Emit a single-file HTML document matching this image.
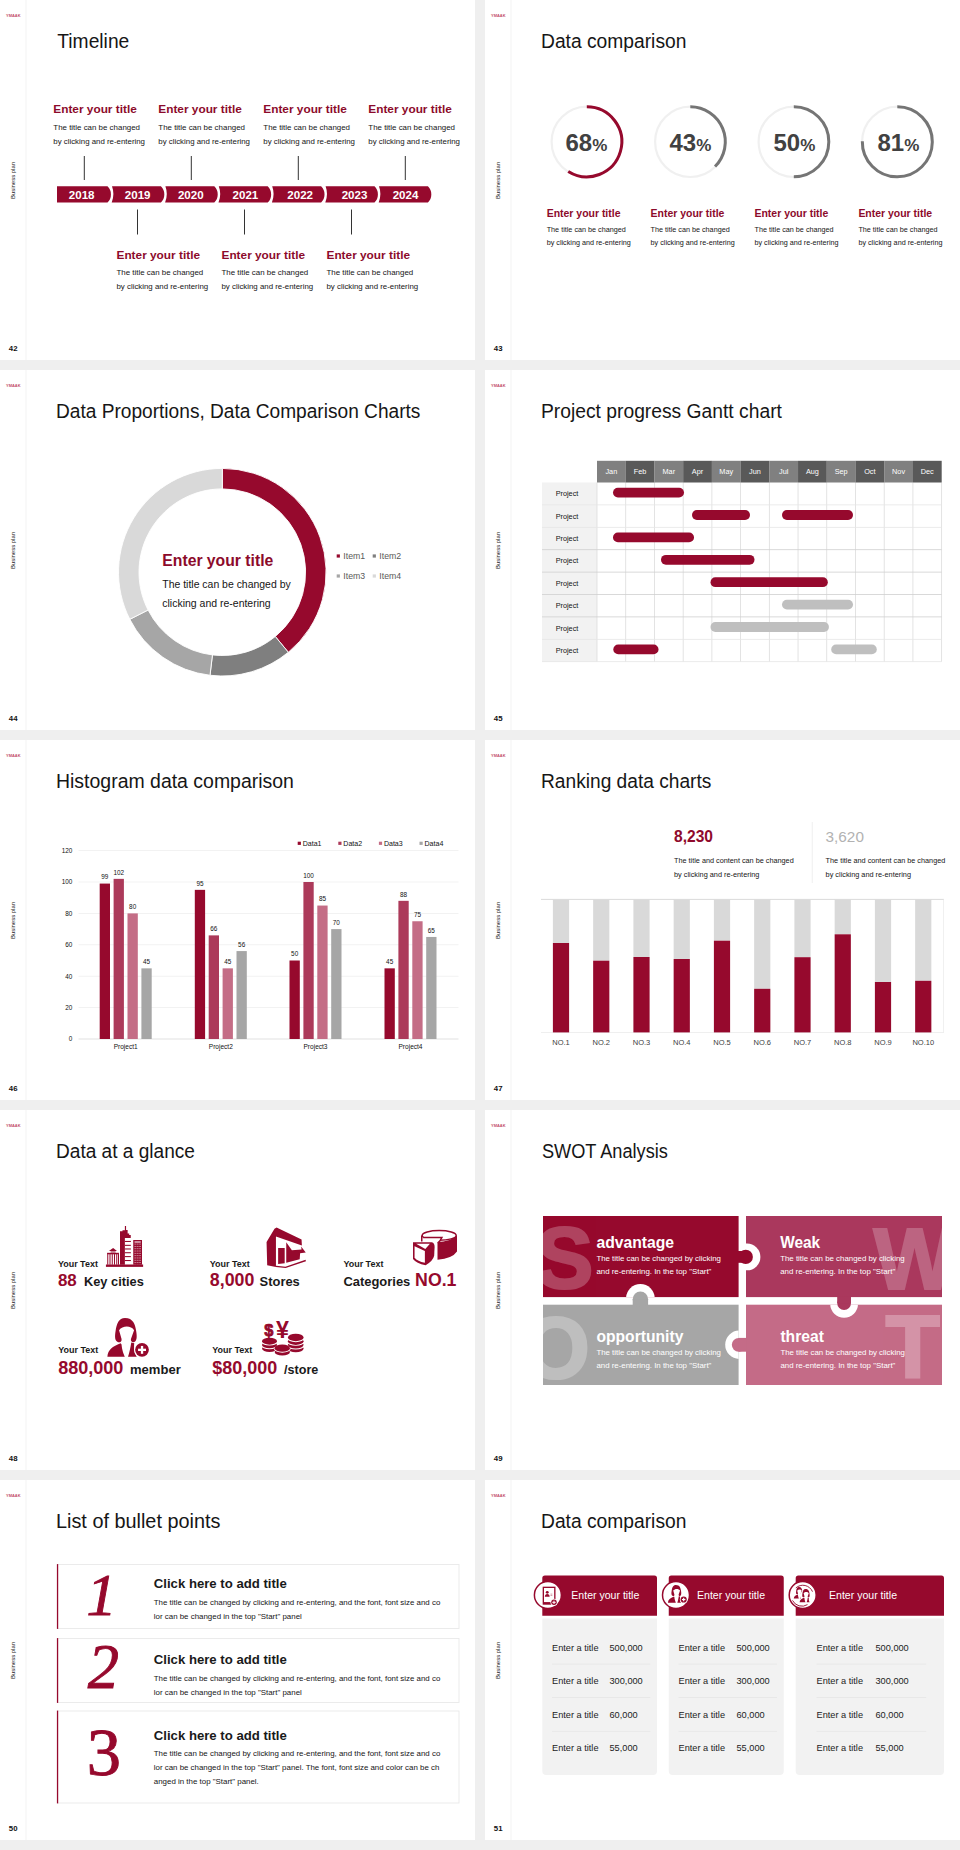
<!DOCTYPE html>
<html lang="en"><head><meta charset="utf-8"><title>Business plan slides</title>
<style>
html,body{margin:0;padding:0}
body{width:960px;height:1850px;background:#efefef;position:relative;overflow:hidden;font-family:"Liberation Sans",sans-serif}
svg.s{position:absolute;background:#fff;display:block;font-family:"Liberation Sans",sans-serif}
</style></head><body>
<svg class="s" style="left:0px;top:0px" width="475" height="360" viewBox="0 0 475 360">
<rect x="25.5" y="0" width="1" height="360" fill="#f4f4f4"/>
<text x="6" y="16.8" font-size="3.6" fill="#c4506c" font-weight="bold" textLength="14.5" lengthAdjust="spacingAndGlyphs">YMAAK</text>
<text transform="translate(15.1,199) rotate(-90)" font-size="5.5" fill="#222" textLength="37" lengthAdjust="spacingAndGlyphs">Business plan</text>
<text x="8.8" y="351.4" font-size="7.8" fill="#111" font-weight="bold">42</text>
<text x="57.3" y="47.7" font-size="19.5" fill="#161616" textLength="72" lengthAdjust="spacingAndGlyphs">Timeline</text>
<text x="53.3" y="113.3" font-size="11.8" fill="#8c0a2b" font-weight="bold" textLength="83.5" lengthAdjust="spacingAndGlyphs">Enter your title</text>
<text x="53.3" y="130" font-size="7.9" fill="#151515" textLength="86.7" lengthAdjust="spacingAndGlyphs">The title can be changed</text>
<text x="53.3" y="144.3" font-size="7.9" fill="#151515" textLength="91.7" lengthAdjust="spacingAndGlyphs">by clicking and re-entering</text>
<rect x="83.8" y="156" width="1" height="24" fill="#333"/>
<text x="158.3" y="113.3" font-size="11.8" fill="#8c0a2b" font-weight="bold" textLength="83.5" lengthAdjust="spacingAndGlyphs">Enter your title</text>
<text x="158.3" y="130" font-size="7.9" fill="#151515" textLength="86.7" lengthAdjust="spacingAndGlyphs">The title can be changed</text>
<text x="158.3" y="144.3" font-size="7.9" fill="#151515" textLength="91.7" lengthAdjust="spacingAndGlyphs">by clicking and re-entering</text>
<rect x="190.8" y="156" width="1" height="24" fill="#333"/>
<text x="263.3" y="113.3" font-size="11.8" fill="#8c0a2b" font-weight="bold" textLength="83.5" lengthAdjust="spacingAndGlyphs">Enter your title</text>
<text x="263.3" y="130" font-size="7.9" fill="#151515" textLength="86.7" lengthAdjust="spacingAndGlyphs">The title can be changed</text>
<text x="263.3" y="144.3" font-size="7.9" fill="#151515" textLength="91.7" lengthAdjust="spacingAndGlyphs">by clicking and re-entering</text>
<rect x="297.8" y="156" width="1" height="24" fill="#333"/>
<text x="368.3" y="113.3" font-size="11.8" fill="#8c0a2b" font-weight="bold" textLength="83.5" lengthAdjust="spacingAndGlyphs">Enter your title</text>
<text x="368.3" y="130" font-size="7.9" fill="#151515" textLength="86.7" lengthAdjust="spacingAndGlyphs">The title can be changed</text>
<text x="368.3" y="144.3" font-size="7.9" fill="#151515" textLength="91.7" lengthAdjust="spacingAndGlyphs">by clicking and re-entering</text>
<rect x="404.8" y="156" width="1" height="24" fill="#333"/>
<text x="116.5" y="259.3" font-size="11.8" fill="#8c0a2b" font-weight="bold" textLength="83.5" lengthAdjust="spacingAndGlyphs">Enter your title</text>
<text x="116.5" y="275" font-size="7.9" fill="#151515" textLength="86.7" lengthAdjust="spacingAndGlyphs">The title can be changed</text>
<text x="116.5" y="289.3" font-size="7.9" fill="#151515" textLength="91.7" lengthAdjust="spacingAndGlyphs">by clicking and re-entering</text>
<rect x="137.0" y="209.5" width="1" height="25" fill="#333"/>
<text x="221.5" y="259.3" font-size="11.8" fill="#8c0a2b" font-weight="bold" textLength="83.5" lengthAdjust="spacingAndGlyphs">Enter your title</text>
<text x="221.5" y="275" font-size="7.9" fill="#151515" textLength="86.7" lengthAdjust="spacingAndGlyphs">The title can be changed</text>
<text x="221.5" y="289.3" font-size="7.9" fill="#151515" textLength="91.7" lengthAdjust="spacingAndGlyphs">by clicking and re-entering</text>
<rect x="244.0" y="209.5" width="1" height="25" fill="#333"/>
<text x="326.5" y="259.3" font-size="11.8" fill="#8c0a2b" font-weight="bold" textLength="83.5" lengthAdjust="spacingAndGlyphs">Enter your title</text>
<text x="326.5" y="275" font-size="7.9" fill="#151515" textLength="86.7" lengthAdjust="spacingAndGlyphs">The title can be changed</text>
<text x="326.5" y="289.3" font-size="7.9" fill="#151515" textLength="91.7" lengthAdjust="spacingAndGlyphs">by clicking and re-entering</text>
<rect x="351.0" y="209.5" width="1" height="25" fill="#333"/>
<path d="M57,186.3 L107.50,186.3 C112.10,190.3 112.10,198.6 107.50,202.6 L57,202.6 Z" fill="#96092d"/>
<text x="81.7" y="199.4" font-size="11.8" fill="#fff" font-weight="bold" text-anchor="middle" textLength="25.7" lengthAdjust="spacingAndGlyphs">2018</text>
<path d="M112.00,186.3 L160.90,186.3 C165.50,190.3 165.50,198.6 160.90,202.6 L111.70,202.6 Q115.00,194.45 112.00,186.3 Z" fill="#96092d"/>
<text x="137.7" y="199.4" font-size="11.8" fill="#fff" font-weight="bold" text-anchor="middle" textLength="25.7" lengthAdjust="spacingAndGlyphs">2019</text>
<path d="M165.40,186.3 L214.30,186.3 C218.90,190.3 218.90,198.6 214.30,202.6 L165.10,202.6 Q168.40,194.45 165.40,186.3 Z" fill="#96092d"/>
<text x="190.8" y="199.4" font-size="11.8" fill="#fff" font-weight="bold" text-anchor="middle" textLength="25.7" lengthAdjust="spacingAndGlyphs">2020</text>
<path d="M218.80,186.3 L267.70,186.3 C272.30,190.3 272.30,198.6 267.70,202.6 L218.50,202.6 Q221.80,194.45 218.80,186.3 Z" fill="#96092d"/>
<text x="245.4" y="199.4" font-size="11.8" fill="#fff" font-weight="bold" text-anchor="middle" textLength="25.7" lengthAdjust="spacingAndGlyphs">2021</text>
<path d="M272.20,186.3 L321.10,186.3 C325.70,190.3 325.70,198.6 321.10,202.6 L271.90,202.6 Q275.20,194.45 272.20,186.3 Z" fill="#96092d"/>
<text x="300.2" y="199.4" font-size="11.8" fill="#fff" font-weight="bold" text-anchor="middle" textLength="25.7" lengthAdjust="spacingAndGlyphs">2022</text>
<path d="M325.60,186.3 L374.50,186.3 C379.10,190.3 379.10,198.6 374.50,202.6 L325.30,202.6 Q328.60,194.45 325.60,186.3 Z" fill="#96092d"/>
<text x="354.5" y="199.4" font-size="11.8" fill="#fff" font-weight="bold" text-anchor="middle" textLength="25.7" lengthAdjust="spacingAndGlyphs">2023</text>
<path d="M379.00,186.3 L427.90,186.3 C432.50,190.3 432.50,198.6 427.90,202.6 L378.70,202.6 Q382.00,194.45 379.00,186.3 Z" fill="#96092d"/>
<text x="405.5" y="199.4" font-size="11.8" fill="#fff" font-weight="bold" text-anchor="middle" textLength="25.7" lengthAdjust="spacingAndGlyphs">2024</text>
</svg>
<svg class="s" style="left:485px;top:0px" width="475" height="360" viewBox="0 0 475 360">
<rect x="25.5" y="0" width="1" height="360" fill="#f4f4f4"/>
<text x="6" y="16.8" font-size="3.6" fill="#c4506c" font-weight="bold" textLength="14.5" lengthAdjust="spacingAndGlyphs">YMAAK</text>
<text transform="translate(15.1,199) rotate(-90)" font-size="5.5" fill="#222" textLength="37" lengthAdjust="spacingAndGlyphs">Business plan</text>
<text x="8.8" y="351.4" font-size="7.8" fill="#111" font-weight="bold">43</text>
<text x="56.0" y="47.7" font-size="19.5" fill="#161616" textLength="145.4" lengthAdjust="spacingAndGlyphs">Data comparison</text>
<circle cx="101.8" cy="141.8" r="35.2" fill="none" stroke="#f0f0f0" stroke-width="2.2"/>
<path d="M101.80,106.80 A35.0,35.0 0 1 1 83.25,171.48" fill="none" stroke="#96092d" stroke-width="3.0"/>
<text x="80.5" y="150.7" font-weight="bold" fill="#414141"><tspan font-size="24">68</tspan><tspan font-size="17">%</tspan></text>
<text x="61.7" y="216.7" font-size="10.5" fill="#8c0a2b" font-weight="bold" textLength="73.8" lengthAdjust="spacingAndGlyphs">Enter your title</text>
<text x="61.7" y="231.6" font-size="7.2" fill="#151515" textLength="79.1" lengthAdjust="spacingAndGlyphs">The title can be changed</text>
<text x="61.7" y="244.7" font-size="7.2" fill="#151515" textLength="84.1" lengthAdjust="spacingAndGlyphs">by clicking and re-entering</text>
<circle cx="205.3" cy="141.8" r="35.2" fill="none" stroke="#f0f0f0" stroke-width="2.2"/>
<path d="M205.30,106.80 A35.0,35.0 0 0 1 230.05,166.55" fill="none" stroke="#757575" stroke-width="3.0"/>
<text x="184.5" y="150.7" font-weight="bold" fill="#414141"><tspan font-size="24">43</tspan><tspan font-size="17">%</tspan></text>
<text x="165.6" y="216.7" font-size="10.5" fill="#8c0a2b" font-weight="bold" textLength="73.8" lengthAdjust="spacingAndGlyphs">Enter your title</text>
<text x="165.6" y="231.6" font-size="7.2" fill="#151515" textLength="79.1" lengthAdjust="spacingAndGlyphs">The title can be changed</text>
<text x="165.6" y="244.7" font-size="7.2" fill="#151515" textLength="84.1" lengthAdjust="spacingAndGlyphs">by clicking and re-entering</text>
<circle cx="308.8" cy="141.8" r="35.2" fill="none" stroke="#f0f0f0" stroke-width="2.2"/>
<path d="M308.80,106.80 A35.0,35.0 0 0 1 308.80,176.80" fill="none" stroke="#757575" stroke-width="3.0"/>
<text x="288.5" y="150.7" font-weight="bold" fill="#414141"><tspan font-size="24">50</tspan><tspan font-size="17">%</tspan></text>
<text x="269.5" y="216.7" font-size="10.5" fill="#8c0a2b" font-weight="bold" textLength="73.8" lengthAdjust="spacingAndGlyphs">Enter your title</text>
<text x="269.5" y="231.6" font-size="7.2" fill="#151515" textLength="79.1" lengthAdjust="spacingAndGlyphs">The title can be changed</text>
<text x="269.5" y="244.7" font-size="7.2" fill="#151515" textLength="84.1" lengthAdjust="spacingAndGlyphs">by clicking and re-entering</text>
<circle cx="412.3" cy="141.8" r="35.2" fill="none" stroke="#f0f0f0" stroke-width="2.2"/>
<path d="M412.30,106.80 A35.0,35.0 0 1 1 377.31,141.19" fill="none" stroke="#757575" stroke-width="3.0"/>
<text x="392.5" y="150.7" font-weight="bold" fill="#414141"><tspan font-size="24">81</tspan><tspan font-size="17">%</tspan></text>
<text x="373.4" y="216.7" font-size="10.5" fill="#8c0a2b" font-weight="bold" textLength="73.8" lengthAdjust="spacingAndGlyphs">Enter your title</text>
<text x="373.4" y="231.6" font-size="7.2" fill="#151515" textLength="79.1" lengthAdjust="spacingAndGlyphs">The title can be changed</text>
<text x="373.4" y="244.7" font-size="7.2" fill="#151515" textLength="84.1" lengthAdjust="spacingAndGlyphs">by clicking and re-entering</text>
</svg>
<svg class="s" style="left:0px;top:370px" width="475" height="360" viewBox="0 0 475 360">
<rect x="25.5" y="0" width="1" height="360" fill="#f4f4f4"/>
<text x="6" y="16.8" font-size="3.6" fill="#c4506c" font-weight="bold" textLength="14.5" lengthAdjust="spacingAndGlyphs">YMAAK</text>
<text transform="translate(15.1,199) rotate(-90)" font-size="5.5" fill="#222" textLength="37" lengthAdjust="spacingAndGlyphs">Business plan</text>
<text x="8.8" y="351.4" font-size="7.8" fill="#111" font-weight="bold">44</text>
<text x="56.0" y="47.7" font-size="19.5" fill="#161616" textLength="364.4" lengthAdjust="spacingAndGlyphs">Data Proportions, Data Comparison Charts</text>
<path d="M222.30,98.40 A103.8,103.8 0 0 1 288.32,282.29 L275.29,266.48 A83.3,83.3 0 0 0 222.30,118.90 Z" fill="#96092d" stroke="#fff" stroke-width="0.9"/>
<path d="M288.32,282.29 A103.8,103.8 0 0 1 210.01,305.27 L212.44,284.91 A83.3,83.3 0 0 0 275.29,266.48 Z" fill="#7f7f7f" stroke="#fff" stroke-width="0.9"/>
<path d="M210.01,305.27 A103.8,103.8 0 0 1 129.81,249.32 L148.08,240.02 A83.3,83.3 0 0 0 212.44,284.91 Z" fill="#a6a6a6" stroke="#fff" stroke-width="0.9"/>
<path d="M129.81,249.32 A103.8,103.8 0 0 1 222.30,98.40 L222.30,118.90 A83.3,83.3 0 0 0 148.08,240.02 Z" fill="#d9d9d9" stroke="#fff" stroke-width="0.9"/>
<text x="162.3" y="196" font-size="15.7" fill="#8c0a2b" font-weight="bold" textLength="111" lengthAdjust="spacingAndGlyphs">Enter your title</text>
<text x="162.3" y="217.7" font-size="10.45" fill="#151515" textLength="128.4" lengthAdjust="spacingAndGlyphs">The title can be changed by</text>
<text x="162.3" y="236.7" font-size="10.45" fill="#151515" textLength="108.4" lengthAdjust="spacingAndGlyphs">clicking and re-entering</text>
<rect x="336.7" y="184.4" width="3.2" height="3.2" fill="#96092d"/>
<text x="343.3" y="189" font-size="8.6" fill="#595959" textLength="21.8" lengthAdjust="spacingAndGlyphs">Item1</text>
<rect x="372.7" y="184.4" width="3.2" height="3.2" fill="#7f7f7f"/>
<text x="379.3" y="189" font-size="8.6" fill="#595959" textLength="21.8" lengthAdjust="spacingAndGlyphs">Item2</text>
<rect x="336.7" y="204.4" width="3.2" height="3.2" fill="#a6a6a6"/>
<text x="343.3" y="209" font-size="8.6" fill="#595959" textLength="21.8" lengthAdjust="spacingAndGlyphs">Item3</text>
<rect x="372.7" y="204.4" width="3.2" height="3.2" fill="#d9d9d9"/>
<text x="379.3" y="209" font-size="8.6" fill="#595959" textLength="21.8" lengthAdjust="spacingAndGlyphs">Item4</text>
</svg>
<svg class="s" style="left:485px;top:370px" width="475" height="360" viewBox="0 0 475 360">
<rect x="25.5" y="0" width="1" height="360" fill="#f4f4f4"/>
<text x="6" y="16.8" font-size="3.6" fill="#c4506c" font-weight="bold" textLength="14.5" lengthAdjust="spacingAndGlyphs">YMAAK</text>
<text transform="translate(15.1,199) rotate(-90)" font-size="5.5" fill="#222" textLength="37" lengthAdjust="spacingAndGlyphs">Business plan</text>
<text x="8.8" y="351.4" font-size="7.8" fill="#111" font-weight="bold">45</text>
<text x="56.0" y="47.7" font-size="19.5" fill="#161616" textLength="240.9" lengthAdjust="spacingAndGlyphs">Project progress Gantt chart</text>
<rect x="57" y="112.5" width="55.0" height="179.2" fill="#f2f2f2"/>
<rect x="111.60" y="112.5" width="0.8" height="179.2" fill="#dcdcdc"/>
<rect x="140.32" y="112.5" width="0.8" height="179.2" fill="#dcdcdc"/>
<rect x="169.04" y="112.5" width="0.8" height="179.2" fill="#dcdcdc"/>
<rect x="197.76" y="112.5" width="0.8" height="179.2" fill="#dcdcdc"/>
<rect x="226.48" y="112.5" width="0.8" height="179.2" fill="#dcdcdc"/>
<rect x="255.20" y="112.5" width="0.8" height="179.2" fill="#dcdcdc"/>
<rect x="283.92" y="112.5" width="0.8" height="179.2" fill="#dcdcdc"/>
<rect x="312.64" y="112.5" width="0.8" height="179.2" fill="#dcdcdc"/>
<rect x="341.36" y="112.5" width="0.8" height="179.2" fill="#dcdcdc"/>
<rect x="370.08" y="112.5" width="0.8" height="179.2" fill="#dcdcdc"/>
<rect x="398.80" y="112.5" width="0.8" height="179.2" fill="#dcdcdc"/>
<rect x="427.52" y="112.5" width="0.8" height="179.2" fill="#dcdcdc"/>
<rect x="456.24" y="112.5" width="0.8" height="179.2" fill="#dcdcdc"/>
<rect x="57" y="134.50" width="399.64" height="0.8" fill="#e6e6e6"/>
<rect x="57" y="156.90" width="399.64" height="0.8" fill="#e6e6e6"/>
<rect x="57" y="179.30" width="399.64" height="0.8" fill="#d0d0d0"/>
<rect x="57" y="201.70" width="399.64" height="0.8" fill="#d0d0d0"/>
<rect x="57" y="224.10" width="399.64" height="0.8" fill="#d0d0d0"/>
<rect x="57" y="246.50" width="399.64" height="0.8" fill="#d0d0d0"/>
<rect x="57" y="268.90" width="399.64" height="0.8" fill="#e6e6e6"/>
<rect x="57" y="291.30" width="399.64" height="0.8" fill="#e6e6e6"/>
<rect x="112.00" y="90.8" width="28.77" height="21.7" fill="#808080"/>
<text x="126.36" y="104.3" font-size="7.3" fill="#fff" text-anchor="middle">Jan</text>
<rect x="140.72" y="90.8" width="28.77" height="21.7" fill="#595959"/>
<text x="155.08" y="104.3" font-size="7.3" fill="#fff" text-anchor="middle">Feb</text>
<rect x="169.44" y="90.8" width="28.77" height="21.7" fill="#808080"/>
<text x="183.8" y="104.3" font-size="7.3" fill="#fff" text-anchor="middle">Mar</text>
<rect x="198.16" y="90.8" width="28.77" height="21.7" fill="#595959"/>
<text x="212.52" y="104.3" font-size="7.3" fill="#fff" text-anchor="middle">Apr</text>
<rect x="226.88" y="90.8" width="28.77" height="21.7" fill="#808080"/>
<text x="241.24" y="104.3" font-size="7.3" fill="#fff" text-anchor="middle">May</text>
<rect x="255.60" y="90.8" width="28.77" height="21.7" fill="#595959"/>
<text x="269.96" y="104.3" font-size="7.3" fill="#fff" text-anchor="middle">Jun</text>
<rect x="284.32" y="90.8" width="28.77" height="21.7" fill="#808080"/>
<text x="298.68" y="104.3" font-size="7.3" fill="#fff" text-anchor="middle">Jul</text>
<rect x="313.04" y="90.8" width="28.77" height="21.7" fill="#595959"/>
<text x="327.4" y="104.3" font-size="7.3" fill="#fff" text-anchor="middle">Aug</text>
<rect x="341.76" y="90.8" width="28.77" height="21.7" fill="#808080"/>
<text x="356.12" y="104.3" font-size="7.3" fill="#fff" text-anchor="middle">Sep</text>
<rect x="370.48" y="90.8" width="28.77" height="21.7" fill="#595959"/>
<text x="384.84" y="104.3" font-size="7.3" fill="#fff" text-anchor="middle">Oct</text>
<rect x="399.20" y="90.8" width="28.77" height="21.7" fill="#808080"/>
<text x="413.56" y="104.3" font-size="7.3" fill="#fff" text-anchor="middle">Nov</text>
<rect x="427.92" y="90.8" width="28.77" height="21.7" fill="#595959"/>
<text x="442.28" y="104.3" font-size="7.3" fill="#fff" text-anchor="middle">Dec</text>
<text x="82" y="126.1" font-size="7.3" fill="#151515" text-anchor="middle">Project</text>
<text x="82" y="148.5" font-size="7.3" fill="#151515" text-anchor="middle">Project</text>
<text x="82" y="170.9" font-size="7.3" fill="#151515" text-anchor="middle">Project</text>
<text x="82" y="193.3" font-size="7.3" fill="#151515" text-anchor="middle">Project</text>
<text x="82" y="215.7" font-size="7.3" fill="#151515" text-anchor="middle">Project</text>
<text x="82" y="238.1" font-size="7.3" fill="#151515" text-anchor="middle">Project</text>
<text x="82" y="260.5" font-size="7.3" fill="#151515" text-anchor="middle">Project</text>
<text x="82" y="282.9" font-size="7.3" fill="#151515" text-anchor="middle">Project</text>
<rect x="128.0" y="117.70" width="71.0" height="9.8" rx="4.9" fill="#96092d"/>
<rect x="207.0" y="140.10" width="58.0" height="9.8" rx="4.9" fill="#96092d"/>
<rect x="297.0" y="140.10" width="71.0" height="9.8" rx="4.9" fill="#96092d"/>
<rect x="128.0" y="162.50" width="81.0" height="9.8" rx="4.9" fill="#96092d"/>
<rect x="176.0" y="184.90" width="93.5" height="9.8" rx="4.9" fill="#96092d"/>
<rect x="225.5" y="207.30" width="117.3" height="9.8" rx="4.9" fill="#96092d"/>
<rect x="297.0" y="229.70" width="71.0" height="9.8" rx="4.9" fill="#bfbfbf"/>
<rect x="225.5" y="252.10" width="118.4" height="9.8" rx="4.9" fill="#bfbfbf"/>
<rect x="128.3" y="274.50" width="45.2" height="9.8" rx="4.9" fill="#96092d"/>
<rect x="346.2" y="274.50" width="45.6" height="9.8" rx="4.9" fill="#bfbfbf"/>
</svg>
<svg class="s" style="left:0px;top:740px" width="475" height="360" viewBox="0 0 475 360">
<rect x="25.5" y="0" width="1" height="360" fill="#f4f4f4"/>
<text x="6" y="16.8" font-size="3.6" fill="#c4506c" font-weight="bold" textLength="14.5" lengthAdjust="spacingAndGlyphs">YMAAK</text>
<text transform="translate(15.1,199) rotate(-90)" font-size="5.5" fill="#222" textLength="37" lengthAdjust="spacingAndGlyphs">Business plan</text>
<text x="8.8" y="351.4" font-size="7.8" fill="#111" font-weight="bold">46</text>
<text x="56.0" y="47.7" font-size="19.5" fill="#161616" textLength="237.9" lengthAdjust="spacingAndGlyphs">Histogram data comparison</text>
<rect x="78.5" y="298.60" width="380" height="0.8" fill="#d9d9d9"/>
<text x="72.4" y="301.4" font-size="6.4" fill="#111" text-anchor="end">0</text>
<rect x="78.5" y="267.20" width="380" height="0.8" fill="#efefef"/>
<text x="72.4" y="270.0" font-size="6.4" fill="#111" text-anchor="end">20</text>
<rect x="78.5" y="235.80" width="380" height="0.8" fill="#efefef"/>
<text x="72.4" y="238.6" font-size="6.4" fill="#111" text-anchor="end">40</text>
<rect x="78.5" y="204.40" width="380" height="0.8" fill="#efefef"/>
<text x="72.4" y="207.2" font-size="6.4" fill="#111" text-anchor="end">60</text>
<rect x="78.5" y="173.00" width="380" height="0.8" fill="#efefef"/>
<text x="72.4" y="175.8" font-size="6.4" fill="#111" text-anchor="end">80</text>
<rect x="78.5" y="141.60" width="380" height="0.8" fill="#efefef"/>
<text x="72.4" y="144.4" font-size="6.4" fill="#111" text-anchor="end">100</text>
<rect x="78.5" y="110.20" width="380" height="0.8" fill="#efefef"/>
<text x="72.4" y="113.0" font-size="6.4" fill="#111" text-anchor="end">120</text>
<rect x="99.70" y="143.57" width="10.3" height="155.43" fill="#96092d"/>
<text x="104.85" y="139.37" font-size="6.4" fill="#111" text-anchor="middle">99</text>
<rect x="113.60" y="138.86" width="10.3" height="160.14" fill="#ac3a5a"/>
<text x="118.75" y="134.66" font-size="6.4" fill="#111" text-anchor="middle">102</text>
<rect x="127.50" y="173.40" width="10.3" height="125.60" fill="#c46d86"/>
<text x="132.65" y="169.2" font-size="6.4" fill="#111" text-anchor="middle">80</text>
<rect x="141.40" y="228.35" width="10.3" height="70.65" fill="#a6a6a6"/>
<text x="146.55" y="224.15" font-size="6.4" fill="#111" text-anchor="middle">45</text>
<text x="125.7" y="308.8" font-size="6.5" fill="#111" text-anchor="middle" textLength="24" lengthAdjust="spacingAndGlyphs">Project1</text>
<rect x="194.80" y="149.85" width="10.3" height="149.15" fill="#96092d"/>
<text x="199.95" y="145.65" font-size="6.4" fill="#111" text-anchor="middle">95</text>
<rect x="208.70" y="195.38" width="10.3" height="103.62" fill="#ac3a5a"/>
<text x="213.85" y="191.18" font-size="6.4" fill="#111" text-anchor="middle">66</text>
<rect x="222.60" y="228.35" width="10.3" height="70.65" fill="#c46d86"/>
<text x="227.75" y="224.15" font-size="6.4" fill="#111" text-anchor="middle">45</text>
<rect x="236.50" y="211.08" width="10.3" height="87.92" fill="#a6a6a6"/>
<text x="241.65" y="206.88" font-size="6.4" fill="#111" text-anchor="middle">56</text>
<text x="220.8" y="308.8" font-size="6.5" fill="#111" text-anchor="middle" textLength="24" lengthAdjust="spacingAndGlyphs">Project2</text>
<rect x="289.50" y="220.50" width="10.3" height="78.50" fill="#96092d"/>
<text x="294.65" y="216.3" font-size="6.4" fill="#111" text-anchor="middle">50</text>
<rect x="303.40" y="142.00" width="10.3" height="157.00" fill="#ac3a5a"/>
<text x="308.55" y="137.8" font-size="6.4" fill="#111" text-anchor="middle">100</text>
<rect x="317.30" y="165.55" width="10.3" height="133.45" fill="#c46d86"/>
<text x="322.45" y="161.35" font-size="6.4" fill="#111" text-anchor="middle">85</text>
<rect x="331.20" y="189.10" width="10.3" height="109.90" fill="#a6a6a6"/>
<text x="336.35" y="184.9" font-size="6.4" fill="#111" text-anchor="middle">70</text>
<text x="315.5" y="308.8" font-size="6.5" fill="#111" text-anchor="middle" textLength="24" lengthAdjust="spacingAndGlyphs">Project3</text>
<rect x="384.50" y="228.35" width="10.3" height="70.65" fill="#96092d"/>
<text x="389.65" y="224.15" font-size="6.4" fill="#111" text-anchor="middle">45</text>
<rect x="398.40" y="160.84" width="10.3" height="138.16" fill="#ac3a5a"/>
<text x="403.55" y="156.64" font-size="6.4" fill="#111" text-anchor="middle">88</text>
<rect x="412.30" y="181.25" width="10.3" height="117.75" fill="#c46d86"/>
<text x="417.45" y="177.05" font-size="6.4" fill="#111" text-anchor="middle">75</text>
<rect x="426.20" y="196.95" width="10.3" height="102.05" fill="#a6a6a6"/>
<text x="431.35" y="192.75" font-size="6.4" fill="#111" text-anchor="middle">65</text>
<text x="410.5" y="308.8" font-size="6.5" fill="#111" text-anchor="middle" textLength="24" lengthAdjust="spacingAndGlyphs">Project4</text>
<rect x="297.70" y="101.7" width="3.2" height="3.2" fill="#96092d"/>
<text x="302.7" y="105.6" font-size="7" fill="#111" textLength="18.8" lengthAdjust="spacingAndGlyphs">Data1</text>
<rect x="338.30" y="101.7" width="3.2" height="3.2" fill="#ac3a5a"/>
<text x="343.3" y="105.6" font-size="7" fill="#111" textLength="18.8" lengthAdjust="spacingAndGlyphs">Data2</text>
<rect x="378.90" y="101.7" width="3.2" height="3.2" fill="#c46d86"/>
<text x="383.9" y="105.6" font-size="7" fill="#111" textLength="18.8" lengthAdjust="spacingAndGlyphs">Data3</text>
<rect x="419.50" y="101.7" width="3.2" height="3.2" fill="#a6a6a6"/>
<text x="424.5" y="105.6" font-size="7" fill="#111" textLength="18.8" lengthAdjust="spacingAndGlyphs">Data4</text>
</svg>
<svg class="s" style="left:485px;top:740px" width="475" height="360" viewBox="0 0 475 360">
<rect x="25.5" y="0" width="1" height="360" fill="#f4f4f4"/>
<text x="6" y="16.8" font-size="3.6" fill="#c4506c" font-weight="bold" textLength="14.5" lengthAdjust="spacingAndGlyphs">YMAAK</text>
<text transform="translate(15.1,199) rotate(-90)" font-size="5.5" fill="#222" textLength="37" lengthAdjust="spacingAndGlyphs">Business plan</text>
<text x="8.8" y="351.4" font-size="7.8" fill="#111" font-weight="bold">47</text>
<text x="56.0" y="47.7" font-size="19.5" fill="#161616" textLength="170.4" lengthAdjust="spacingAndGlyphs">Ranking data charts</text>
<text x="189" y="101.9" font-size="15.6" fill="#8f0a2c" font-weight="bold" textLength="39" lengthAdjust="spacingAndGlyphs">8,230</text>
<text x="340.6" y="101.9" font-size="15.4" fill="#b2b2b2" textLength="38.3" lengthAdjust="spacingAndGlyphs">3,620</text>
<text x="189" y="122.5" font-size="7.2" fill="#151515" textLength="119.7" lengthAdjust="spacingAndGlyphs">The title and content can be changed</text>
<text x="189" y="136.7" font-size="7.2" fill="#151515" textLength="85.4" lengthAdjust="spacingAndGlyphs">by clicking and re-entering</text>
<text x="340.6" y="122.5" font-size="7.2" fill="#151515" textLength="119.7" lengthAdjust="spacingAndGlyphs">The title and content can be changed</text>
<text x="340.6" y="136.7" font-size="7.2" fill="#151515" textLength="85.4" lengthAdjust="spacingAndGlyphs">by clicking and re-entering</text>
<rect x="326.8" y="82" width="0.8" height="61" fill="#ececec"/>
<rect x="56" y="158.9" width="403" height="0.9" fill="#d6d6d6"/>
<rect x="458.2" y="159.5" width="0.8" height="132.89999999999998" fill="#ededed"/>
<rect x="56" y="292.2" width="403" height="0.8" fill="#ececec"/>
<rect x="67.90" y="159.5" width="16.2" height="43.50" fill="#d9d9d9"/>
<rect x="67.90" y="203.00" width="16.2" height="89.40" fill="#96092d"/>
<text x="76.0" y="305" font-size="7.5" fill="#404040" text-anchor="middle">NO.1</text>
<rect x="108.15" y="159.5" width="16.2" height="61.20" fill="#d9d9d9"/>
<rect x="108.15" y="220.70" width="16.2" height="71.70" fill="#96092d"/>
<text x="116.25" y="305" font-size="7.5" fill="#404040" text-anchor="middle">NO.2</text>
<rect x="148.40" y="159.5" width="16.2" height="57.50" fill="#d9d9d9"/>
<rect x="148.40" y="217.00" width="16.2" height="75.40" fill="#96092d"/>
<text x="156.5" y="305" font-size="7.5" fill="#404040" text-anchor="middle">NO.3</text>
<rect x="188.65" y="159.5" width="16.2" height="59.50" fill="#d9d9d9"/>
<rect x="188.65" y="219.00" width="16.2" height="73.40" fill="#96092d"/>
<text x="196.75" y="305" font-size="7.5" fill="#404040" text-anchor="middle">NO.4</text>
<rect x="228.90" y="159.5" width="16.2" height="41.20" fill="#d9d9d9"/>
<rect x="228.90" y="200.70" width="16.2" height="91.70" fill="#96092d"/>
<text x="237.0" y="305" font-size="7.5" fill="#404040" text-anchor="middle">NO.5</text>
<rect x="269.15" y="159.5" width="16.2" height="89.30" fill="#d9d9d9"/>
<rect x="269.15" y="248.80" width="16.2" height="43.60" fill="#96092d"/>
<text x="277.25" y="305" font-size="7.5" fill="#404040" text-anchor="middle">NO.6</text>
<rect x="309.40" y="159.5" width="16.2" height="57.70" fill="#d9d9d9"/>
<rect x="309.40" y="217.20" width="16.2" height="75.20" fill="#96092d"/>
<text x="317.5" y="305" font-size="7.5" fill="#404040" text-anchor="middle">NO.7</text>
<rect x="349.65" y="159.5" width="16.2" height="34.80" fill="#d9d9d9"/>
<rect x="349.65" y="194.30" width="16.2" height="98.10" fill="#96092d"/>
<text x="357.75" y="305" font-size="7.5" fill="#404040" text-anchor="middle">NO.8</text>
<rect x="389.90" y="159.5" width="16.2" height="82.50" fill="#d9d9d9"/>
<rect x="389.90" y="242.00" width="16.2" height="50.40" fill="#96092d"/>
<text x="398.0" y="305" font-size="7.5" fill="#404040" text-anchor="middle">NO.9</text>
<rect x="430.15" y="159.5" width="16.2" height="81.30" fill="#d9d9d9"/>
<rect x="430.15" y="240.80" width="16.2" height="51.60" fill="#96092d"/>
<text x="438.25" y="305" font-size="7.5" fill="#404040" text-anchor="middle">NO.10</text>
</svg>
<svg class="s" style="left:0px;top:1110px" width="475" height="360" viewBox="0 0 475 360">
<rect x="25.5" y="0" width="1" height="360" fill="#f4f4f4"/>
<text x="6" y="16.8" font-size="3.6" fill="#c4506c" font-weight="bold" textLength="14.5" lengthAdjust="spacingAndGlyphs">YMAAK</text>
<text transform="translate(15.1,199) rotate(-90)" font-size="5.5" fill="#222" textLength="37" lengthAdjust="spacingAndGlyphs">Business plan</text>
<text x="8.8" y="351.4" font-size="7.8" fill="#111" font-weight="bold">48</text>
<text x="56.0" y="47.7" font-size="19.5" fill="#161616" textLength="138.9" lengthAdjust="spacingAndGlyphs">Data at a glance</text>
<text x="57.9" y="156.5" font-size="8.7" fill="#1a1a1a" font-weight="bold" textLength="40" lengthAdjust="spacingAndGlyphs">Your Text</text>
<text x="57.9" y="176.3" font-size="17.2" fill="#96092d" font-weight="bold" textLength="18.8" lengthAdjust="spacingAndGlyphs">88</text>
<text x="84" y="176.3" font-size="12.8" fill="#1a1a1a" font-weight="bold" textLength="59.8" lengthAdjust="spacingAndGlyphs">Key cities</text>
<text x="209.8" y="156.5" font-size="8.7" fill="#1a1a1a" font-weight="bold" textLength="40" lengthAdjust="spacingAndGlyphs">Your Text</text>
<text x="209.8" y="176.3" font-size="17.6" fill="#96092d" font-weight="bold" textLength="44.5" lengthAdjust="spacingAndGlyphs">8,000</text>
<text x="259.6" y="176.3" font-size="12.9" fill="#1a1a1a" font-weight="bold" textLength="40.2" lengthAdjust="spacingAndGlyphs">Stores</text>
<text x="343.4" y="156.5" font-size="8.7" fill="#1a1a1a" font-weight="bold" textLength="40" lengthAdjust="spacingAndGlyphs">Your Text</text>
<text x="343.4" y="176.3" font-size="12.9" fill="#1a1a1a" font-weight="bold" textLength="66.9" lengthAdjust="spacingAndGlyphs">Categories</text>
<text x="415.1" y="176.3" font-size="17.6" fill="#96092d" font-weight="bold" textLength="41.4" lengthAdjust="spacingAndGlyphs">NO.1</text>
<text x="58.2" y="242.6" font-size="8.7" fill="#1a1a1a" font-weight="bold" textLength="40" lengthAdjust="spacingAndGlyphs">Your Text</text>
<text x="58.2" y="264.2" font-size="17.8" fill="#96092d" font-weight="bold" textLength="65.2" lengthAdjust="spacingAndGlyphs">880,000</text>
<text x="130" y="264.2" font-size="13" fill="#1a1a1a" font-weight="bold" textLength="50.8" lengthAdjust="spacingAndGlyphs">member</text>
<text x="212.2" y="242.6" font-size="8.7" fill="#1a1a1a" font-weight="bold" textLength="40" lengthAdjust="spacingAndGlyphs">Your Text</text>
<text x="212.2" y="264.2" font-size="17.8" fill="#96092d" font-weight="bold" textLength="65" lengthAdjust="spacingAndGlyphs">$80,000</text>
<text x="284.1" y="264.2" font-size="12.6" fill="#1a1a1a" font-weight="bold" textLength="34.2" lengthAdjust="spacingAndGlyphs">/store</text>
<g transform="translate(95,110) scale(0.0625)" fill="#96092d"><rect x="175" y="712" width="595" height="38"/><rect x="193" y="525" width="190" height="24"/><rect x="196" y="545" width="16" height="170"/><rect x="232" y="545" width="16" height="170"/><rect x="268" y="545" width="16" height="170"/><rect x="304" y="545" width="16" height="170"/><rect x="340" y="545" width="16" height="170"/><rect x="368" y="545" width="16" height="170"/><polygon points="222,497 290,448 352,497"/><rect x="250" y="497" width="80" height="28" opacity="0.55"/><polygon points="400,715 400,180 440,180 440,165 478,165 478,95 497,95 497,160 522,160 522,215 547,215 547,240 572,240 572,287 478,287 478,715"/><rect x="478" y="335" width="96" height="17"/><rect x="478" y="397" width="96" height="17"/><rect x="478" y="455" width="96" height="17"/><rect x="478" y="515" width="96" height="17"/><rect x="478" y="577" width="96" height="17"/><rect x="478" y="640" width="96" height="17"/><rect x="612" y="320" width="140" height="395"/><rect x="632" y="342" width="100" height="20" fill="#fff" opacity="0.85"/><rect x="630" y="378" width="106" height="15" fill="#fff" opacity="0.5"/><rect x="630" y="415" width="106" height="15" fill="#fff" opacity="0.5"/><rect x="630" y="452" width="106" height="15" fill="#fff" opacity="0.5"/><rect x="630" y="489" width="106" height="15" fill="#fff" opacity="0.5"/><rect x="630" y="526" width="106" height="15" fill="#fff" opacity="0.5"/><rect x="630" y="563" width="106" height="15" fill="#fff" opacity="0.5"/><rect x="630" y="600" width="106" height="15" fill="#fff" opacity="0.5"/><rect x="630" y="637" width="106" height="15" fill="#fff" opacity="0.5"/><rect x="630" y="674" width="106" height="15" fill="#fff" opacity="0.5"/><rect x="664" y="370" width="8" height="345"/><rect x="698" y="370" width="8" height="345"/></g>
<g transform="translate(255,110) scale(0.0625)" fill="#96092d"><polygon points="185,352 312,140 345,118 745,312 750,408 335,262 335,750 195,725"/><polygon points="370,448 475,448 475,690 370,702"/><polygon points="500,355 590,482 745,472 738,425 812,520 722,530 715,628 500,682"/><polyline points="335,742 490,758 812,648" fill="none" stroke="#96092d" stroke-width="22"/></g>
<g transform="translate(405,112) scale(0.0625)" fill="#96092d"><ellipse cx="547" cy="215" rx="272" ry="78" fill="#fff" stroke="#96092d" stroke-width="24"/><path d="M520,320 Q720,318 832,215 L832,470 Q760,580 520,604 Z"/><polygon points="250,250 575,250 540,330 250,340" fill="#fff"/><path d="M268,215 L268,310 M290,247 L590,247 L560,300 L522,335" fill="none" stroke="#96092d" stroke-width="24"/><path d="M128,323 L430,323 Q472,330 474,400 L466,540 Q450,620 330,692 Q180,660 128,590 Z"/><polygon points="178,348 398,348 325,433" fill="#fff"/><path d="M153,388 L318,462 L318,652 Q200,630 153,572 Z" fill="#fff"/></g>
<g transform="translate(100,202) scale(0.0625)" fill="#96092d"><path d="M400,95 C530,95 565,200 578,300 C595,400 592,470 540,482 C510,487 488,462 495,430 L545,292 C500,212 360,212 305,292 L345,430 C352,470 320,492 290,482 C238,465 233,400 250,300 C265,190 300,95 400,95 Z"/><path d="M118,715 C128,600 200,550 330,498 L345,520 C350,600 380,680 397,715 Z"/><path d="M448,715 C470,650 490,560 500,488 L548,500 C540,560 545,650 588,715 Z"/><circle cx="672" cy="605" r="128" fill="#fff"/><circle cx="672" cy="605" r="110"/><rect x="654" y="543" width="37" height="126" fill="#fff"/><rect x="609" y="587" width="127" height="37" fill="#fff"/></g>
<g transform="translate(252,204) scale(0.0625)" fill="#96092d"><ellipse cx="700" cy="552" rx="125" ry="60"/><ellipse cx="700" cy="507" rx="135" ry="61" fill="#fff"/><ellipse cx="700" cy="493" rx="125" ry="60"/><ellipse cx="700" cy="448" rx="135" ry="61" fill="#fff"/><ellipse cx="700" cy="434" rx="125" ry="60"/><ellipse cx="700" cy="389" rx="135" ry="61" fill="#fff"/><ellipse cx="700" cy="375" rx="125" ry="60"/><ellipse cx="280" cy="553" rx="120" ry="55"/><ellipse cx="280" cy="508" rx="130" ry="56" fill="#fff"/><ellipse cx="280" cy="494" rx="120" ry="55"/><ellipse cx="280" cy="449" rx="130" ry="56" fill="#fff"/><ellipse cx="280" cy="435" rx="120" ry="55"/><ellipse cx="485" cy="606" rx="122" ry="58"/><ellipse cx="485" cy="560" rx="132" ry="59" fill="#fff"/><ellipse cx="485" cy="546" rx="122" ry="58"/><text x="196" y="345" font-size="262" font-weight="bold" stroke="#96092d" stroke-width="12">$</text><text x="385" y="380" font-size="372" font-weight="bold">¥</text></g>
</svg>
<svg class="s" style="left:485px;top:1110px" width="475" height="360" viewBox="0 0 475 360">
<rect x="25.5" y="0" width="1" height="360" fill="#f4f4f4"/>
<text x="6" y="16.8" font-size="3.6" fill="#c4506c" font-weight="bold" textLength="14.5" lengthAdjust="spacingAndGlyphs">YMAAK</text>
<text transform="translate(15.1,199) rotate(-90)" font-size="5.5" fill="#222" textLength="37" lengthAdjust="spacingAndGlyphs">Business plan</text>
<text x="8.8" y="351.4" font-size="7.8" fill="#111" font-weight="bold">49</text>
<text x="56.9" y="47.7" font-size="19.5" fill="#161616" textLength="126" lengthAdjust="spacingAndGlyphs">SWOT Analysis</text>
<defs><clipPath id="kS"><rect x="58" y="106" width="195.6" height="81.1"/></clipPath><clipPath id="kW"><rect x="261" y="106" width="196" height="81.1"/></clipPath><clipPath id="kO"><rect x="58" y="194.7" width="195.6" height="80.30000000000001"/></clipPath><clipPath id="kT"><rect x="261" y="194.7" width="196" height="80.30000000000001"/></clipPath></defs>
<rect x="58" y="106" width="195.6" height="81.1" fill="#96092d"/><text x="50.5" y="177.5" font-size="87" font-weight="bold" fill="#fff" stroke="#fff" stroke-width="2.2" opacity="0.24" clip-path="url(#kS)">S</text>
<rect x="261" y="106" width="196" height="81.1" fill="#aa385d"/><text x="388.5" y="178.8" font-size="87" font-weight="bold" fill="#fff" stroke="#fff" stroke-width="2.2" opacity="0.22" clip-path="url(#kW)">W</text>
<rect x="58" y="194.7" width="195.6" height="80.30000000000001" fill="#a6a6a6"/><text x="104.8" y="267.8" font-size="87" font-weight="bold" fill="#fff" stroke="#fff" stroke-width="2.2" opacity="0.27" clip-path="url(#kO)" text-anchor="end">O</text>
<rect x="261" y="194.7" width="196" height="80.30000000000001" fill="#c46b87"/><text x="400.5" y="267" font-size="89" font-weight="bold" fill="#fff" stroke="#fff" stroke-width="2.2" opacity="0.27" clip-path="url(#kT)">T</text>
<circle cx="155.4" cy="188.3" r="14.3" fill="#fff" clip-path="url(#kS)"/>
<circle cx="262" cy="146.9" r="13.4" fill="#fff" clip-path="url(#kW)"/>
<circle cx="359.1" cy="193.8" r="13.9" fill="#fff" clip-path="url(#kT)"/>
<circle cx="254.4" cy="234.8" r="14.2" fill="#fff" clip-path="url(#kO)"/>
<circle cx="155.4" cy="189.3" r="7.7" fill="#a6a6a6"/><rect x="147.7" y="189.3" width="15.4" height="6" fill="#a6a6a6"/>
<circle cx="260.7" cy="146.9" r="7.2" fill="#96092d"/><rect x="253" y="141" width="7" height="11.8" fill="#96092d"/>
<circle cx="359.1" cy="193.1" r="6.9" fill="#aa385d"/><rect x="352.2" y="186.8" width="13.8" height="6.3" fill="#aa385d"/>
<circle cx="253.7" cy="234.8" r="6.9" fill="#c46b87"/><rect x="253.7" y="227.9" width="8" height="13.8" fill="#c46b87"/>
<text x="111.4" y="137.9" font-size="15.6" fill="#fff" font-weight="bold" textLength="77.7" lengthAdjust="spacingAndGlyphs">advantage</text><text x="111.4" y="151.1" font-size="7.4" fill="#fff" textLength="124.5" lengthAdjust="spacingAndGlyphs">The title can be changed by clicking</text><text x="111.4" y="163.7" font-size="7.4" fill="#fff" textLength="115" lengthAdjust="spacingAndGlyphs">and re-entering. In the top "Start"</text>
<text x="295.2" y="138" font-size="15.6" fill="#fff" font-weight="bold" textLength="40" lengthAdjust="spacingAndGlyphs">Weak</text><text x="295.2" y="151.2" font-size="7.4" fill="#fff" textLength="124.5" lengthAdjust="spacingAndGlyphs">The title can be changed by clicking</text><text x="295.2" y="163.8" font-size="7.4" fill="#fff" textLength="115" lengthAdjust="spacingAndGlyphs">and re-entering. In the top "Start"</text>
<text x="111.4" y="232" font-size="15.6" fill="#fff" font-weight="bold" textLength="87" lengthAdjust="spacingAndGlyphs">opportunity</text><text x="111.4" y="245.2" font-size="7.4" fill="#fff" textLength="124.5" lengthAdjust="spacingAndGlyphs">The title can be changed by clicking</text><text x="111.4" y="257.8" font-size="7.4" fill="#fff" textLength="115" lengthAdjust="spacingAndGlyphs">and re-entering. In the top "Start"</text>
<text x="295.4" y="231.8" font-size="15.6" fill="#fff" font-weight="bold" textLength="43.5" lengthAdjust="spacingAndGlyphs">threat</text><text x="295.4" y="245.0" font-size="7.4" fill="#fff" textLength="124.5" lengthAdjust="spacingAndGlyphs">The title can be changed by clicking</text><text x="295.4" y="257.6" font-size="7.4" fill="#fff" textLength="115" lengthAdjust="spacingAndGlyphs">and re-entering. In the top "Start"</text>
</svg>
<svg class="s" style="left:0px;top:1480px" width="475" height="360" viewBox="0 0 475 360">
<rect x="25.5" y="0" width="1" height="360" fill="#f4f4f4"/>
<text x="6" y="16.8" font-size="3.6" fill="#c4506c" font-weight="bold" textLength="14.5" lengthAdjust="spacingAndGlyphs">YMAAK</text>
<text transform="translate(15.1,199) rotate(-90)" font-size="5.5" fill="#222" textLength="37" lengthAdjust="spacingAndGlyphs">Business plan</text>
<text x="8.8" y="351.4" font-size="7.8" fill="#111" font-weight="bold">50</text>
<text x="56.0" y="47.7" font-size="19.5" fill="#161616" textLength="164.4" lengthAdjust="spacingAndGlyphs">List of bullet points</text>
<rect x="57.5" y="84.5" width="401.5" height="64.0" fill="#fff" stroke="#e9e9e9" stroke-width="0.9"/>
<rect x="56.9" y="84.1" width="1.3" height="64.8" fill="#96092d"/>
<rect x="57.5" y="158.5" width="401.5" height="64.0" fill="#fff" stroke="#e9e9e9" stroke-width="0.9"/>
<rect x="56.9" y="158.1" width="1.3" height="64.8" fill="#96092d"/>
<rect x="57.5" y="231" width="401.5" height="92" fill="#fff" stroke="#e9e9e9" stroke-width="0.9"/>
<rect x="56.9" y="230.6" width="1.3" height="92.8" fill="#96092d"/>
<text x="101.5" y="135.3" font-size="60" fill="#96092d" text-anchor="middle" font-family="'Liberation Serif',serif" font-style="italic" stroke="#96092d" stroke-width="0.9">1</text>
<text x="103.3" y="208.3" font-size="62.5" fill="#96092d" text-anchor="middle" font-family="'Liberation Serif',serif" font-style="italic" stroke="#96092d" stroke-width="0.9">2</text>
<text x="103.8" y="294.8" font-size="68.5" fill="#96092d" text-anchor="middle" font-family="'Liberation Serif',serif" stroke="#96092d" stroke-width="0.9">3</text>
<text x="153.8" y="107.8" font-size="13.15" fill="#1a1a1a" font-weight="bold" textLength="133" lengthAdjust="spacingAndGlyphs">Click here to add title</text>
<text x="153.8" y="125" font-size="7.2" fill="#151515" textLength="286.5" lengthAdjust="spacingAndGlyphs">The title can be changed by clicking and re-entering, and the font, font size and co</text>
<text x="153.8" y="139.2" font-size="7.2" fill="#151515" textLength="148" lengthAdjust="spacingAndGlyphs">lor can be changed in the top "Start" panel</text>
<text x="153.8" y="183.6" font-size="13.15" fill="#1a1a1a" font-weight="bold" textLength="133" lengthAdjust="spacingAndGlyphs">Click here to add title</text>
<text x="153.8" y="200.6" font-size="7.2" fill="#151515" textLength="286.5" lengthAdjust="spacingAndGlyphs">The title can be changed by clicking and re-entering, and the font, font size and co</text>
<text x="153.8" y="214.8" font-size="7.2" fill="#151515" textLength="148" lengthAdjust="spacingAndGlyphs">lor can be changed in the top "Start" panel</text>
<text x="153.8" y="260.1" font-size="13.15" fill="#1a1a1a" font-weight="bold" textLength="133" lengthAdjust="spacingAndGlyphs">Click here to add title</text>
<text x="153.8" y="276.1" font-size="7.2" fill="#151515" textLength="286.5" lengthAdjust="spacingAndGlyphs">The title can be changed by clicking and re-entering, and the font, font size and co</text>
<text x="153.8" y="290.4" font-size="7.2" fill="#151515" textLength="285.5" lengthAdjust="spacingAndGlyphs">lor can be changed in the top "Start" panel. The font, font size and color can be ch</text>
<text x="153.8" y="304.3" font-size="7.2" fill="#151515" textLength="105" lengthAdjust="spacingAndGlyphs">anged in the top "Start" panel.</text>
</svg>
<svg class="s" style="left:485px;top:1480px" width="475" height="360" viewBox="0 0 475 360">
<rect x="25.5" y="0" width="1" height="360" fill="#f4f4f4"/>
<text x="6" y="16.8" font-size="3.6" fill="#c4506c" font-weight="bold" textLength="14.5" lengthAdjust="spacingAndGlyphs">YMAAK</text>
<text transform="translate(15.1,199) rotate(-90)" font-size="5.5" fill="#222" textLength="37" lengthAdjust="spacingAndGlyphs">Business plan</text>
<text x="8.8" y="351.4" font-size="7.8" fill="#111" font-weight="bold">51</text>
<text x="56.0" y="47.7" font-size="19.5" fill="#161616" textLength="145.4" lengthAdjust="spacingAndGlyphs">Data comparison</text>
<path d="M57.3,135.8 V98 Q57.3,95.4 59.9,95.4 H169.4 Q172,95.4 172,98 V135.8 Z" fill="#96092d"/>
<path d="M57.3,138.6 H172 V291 Q172,295 168,295 H61.3 Q57.3,295 57.3,291 Z" fill="#f2f2f2"/>
<circle cx="62.9" cy="115" r="13.5" fill="#fff" stroke="#96092d" stroke-width="1.5"/>
<text x="86.3" y="118.75" font-size="10.55" fill="#fff" textLength="68" lengthAdjust="spacingAndGlyphs">Enter your title</text>
<text x="67" y="170.5" font-size="9.2" fill="#222" textLength="46.5" lengthAdjust="spacingAndGlyphs">Enter a title</text>
<text x="124.5" y="170.5" font-size="9.2" fill="#222">500,000</text>
<rect x="67" y="183.7" width="98.3" height="0.7" fill="#e4e4e4"/>
<text x="67" y="204.1" font-size="9.2" fill="#222" textLength="46.5" lengthAdjust="spacingAndGlyphs">Enter a title</text>
<text x="124.5" y="204.1" font-size="9.2" fill="#222">300,000</text>
<rect x="67" y="217.3" width="98.3" height="0.7" fill="#e4e4e4"/>
<text x="67" y="237.7" font-size="9.2" fill="#222" textLength="46.5" lengthAdjust="spacingAndGlyphs">Enter a title</text>
<text x="124.5" y="237.7" font-size="9.2" fill="#222">60,000</text>
<rect x="67" y="250.9" width="98.3" height="0.7" fill="#e4e4e4"/>
<text x="67" y="271.3" font-size="9.2" fill="#222" textLength="46.5" lengthAdjust="spacingAndGlyphs">Enter a title</text>
<text x="124.5" y="271.3" font-size="9.2" fill="#222">55,000</text>
<path d="M183.75,135.8 V98 Q183.75,95.4 186.35,95.4 H296.15 Q298.75,95.4 298.75,98 V135.8 Z" fill="#96092d"/>
<path d="M183.75,138.6 H298.75 V291 Q298.75,295 294.75,295 H187.75 Q183.75,295 183.75,291 Z" fill="#f2f2f2"/>
<circle cx="191" cy="115" r="13.5" fill="#fff" stroke="#96092d" stroke-width="1.5"/>
<text x="212" y="118.75" font-size="10.55" fill="#fff" textLength="68" lengthAdjust="spacingAndGlyphs">Enter your title</text>
<text x="193.5" y="170.5" font-size="9.2" fill="#222" textLength="46.5" lengthAdjust="spacingAndGlyphs">Enter a title</text>
<text x="251.5" y="170.5" font-size="9.2" fill="#222">500,000</text>
<rect x="193.5" y="183.7" width="98.5" height="0.7" fill="#e4e4e4"/>
<text x="193.5" y="204.1" font-size="9.2" fill="#222" textLength="46.5" lengthAdjust="spacingAndGlyphs">Enter a title</text>
<text x="251.5" y="204.1" font-size="9.2" fill="#222">300,000</text>
<rect x="193.5" y="217.3" width="98.5" height="0.7" fill="#e4e4e4"/>
<text x="193.5" y="237.7" font-size="9.2" fill="#222" textLength="46.5" lengthAdjust="spacingAndGlyphs">Enter a title</text>
<text x="251.5" y="237.7" font-size="9.2" fill="#222">60,000</text>
<rect x="193.5" y="250.9" width="98.5" height="0.7" fill="#e4e4e4"/>
<text x="193.5" y="271.3" font-size="9.2" fill="#222" textLength="46.5" lengthAdjust="spacingAndGlyphs">Enter a title</text>
<text x="251.5" y="271.3" font-size="9.2" fill="#222">55,000</text>
<path d="M310.7,135.8 V98 Q310.7,95.4 313.3,95.4 H456.4 Q459,95.4 459,98 V135.8 Z" fill="#96092d"/>
<path d="M310.7,138.6 H459 V291 Q459,295 455,295 H314.7 Q310.7,295 310.7,291 Z" fill="#f2f2f2"/>
<circle cx="317.7" cy="115" r="13.5" fill="#fff" stroke="#96092d" stroke-width="1.5"/>
<text x="344" y="118.75" font-size="10.55" fill="#fff" textLength="68" lengthAdjust="spacingAndGlyphs">Enter your title</text>
<text x="331.5" y="170.5" font-size="9.2" fill="#222" textLength="46.5" lengthAdjust="spacingAndGlyphs">Enter a title</text>
<text x="390.5" y="170.5" font-size="9.2" fill="#222">500,000</text>
<rect x="331.5" y="183.7" width="109.7" height="0.7" fill="#e4e4e4"/>
<text x="331.5" y="204.1" font-size="9.2" fill="#222" textLength="46.5" lengthAdjust="spacingAndGlyphs">Enter a title</text>
<text x="390.5" y="204.1" font-size="9.2" fill="#222">300,000</text>
<rect x="331.5" y="217.3" width="109.7" height="0.7" fill="#e4e4e4"/>
<text x="331.5" y="237.7" font-size="9.2" fill="#222" textLength="46.5" lengthAdjust="spacingAndGlyphs">Enter a title</text>
<text x="390.5" y="237.7" font-size="9.2" fill="#222">60,000</text>
<rect x="331.5" y="250.9" width="109.7" height="0.7" fill="#e4e4e4"/>
<text x="331.5" y="271.3" font-size="9.2" fill="#222" textLength="46.5" lengthAdjust="spacingAndGlyphs">Enter a title</text>
<text x="390.5" y="271.3" font-size="9.2" fill="#222">55,000</text>
<g transform="translate(45,90) scale(0.083333)" fill="#96092d"><rect x="160" y="208" width="138" height="200" fill="#fff" stroke="#96092d" stroke-width="16"/><rect x="160" y="385" width="138" height="24"/><circle cx="207" cy="268" r="17"/><path d="M178,322 Q180,288 207,288 Q234,288 236,322 Z"/><rect x="246" y="285" width="22" height="8" opacity="0.6"/><rect x="246" y="300" width="22" height="8" opacity="0.6"/><circle cx="288" cy="388" r="42" fill="#fff"/><circle cx="288" cy="388" r="33"/><rect x="282" y="368" width="12" height="40" fill="#fff"/><rect x="268" y="382" width="40" height="12" fill="#fff"/></g>
<g transform="translate(179.537,102.2925) scale(0.0285)" fill="#96092d"><path d="M400,95 C530,95 565,200 578,300 C595,400 592,470 540,482 C510,487 488,462 495,430 L545,292 C500,212 360,212 305,292 L345,430 C352,470 320,492 290,482 C238,465 233,400 250,300 C265,190 300,95 400,95 Z"/><path d="M118,715 C128,600 200,550 330,498 L345,520 C350,600 380,680 397,715 Z"/><path d="M448,715 C470,650 490,560 500,488 L548,500 C540,560 545,650 588,715 Z"/><circle cx="672" cy="605" r="135" fill="#fff"/><circle cx="672" cy="605" r="108"/><rect x="652" y="545" width="40" height="120" fill="#fff"/><rect x="612" y="585" width="120" height="40" fill="#fff"/></g>
<g transform="translate(306.567,105.32583333333334) scale(0.0185)" fill="#96092d"><path d="M400,95 C530,95 565,200 578,300 C595,400 592,470 540,482 C510,487 488,462 495,430 L545,292 C500,212 360,212 305,292 L345,430 C352,470 320,492 290,482 C238,465 233,400 250,300 C265,190 300,95 400,95 Z"/><path d="M118,715 C128,600 200,550 330,498 L345,520 C350,600 380,680 397,715 Z"/><path d="M448,715 C470,650 490,560 500,488 L548,500 C540,560 545,650 588,715 Z"/></g>
<circle cx="321.25" cy="115.83" r="6.3" fill="#fff"/>
<g transform="translate(312.04633333333334,106.9575) scale(0.0215)" fill="#96092d"><path d="M400,95 C530,95 565,200 578,300 C595,400 592,470 540,482 C510,487 488,462 495,430 L545,292 C500,212 360,212 305,292 L345,430 C352,470 320,492 290,482 C238,465 233,400 250,300 C265,190 300,95 400,95 Z"/><path d="M118,715 C128,600 200,550 330,498 L345,520 C350,600 380,680 397,715 Z"/><path d="M448,715 C470,650 490,560 500,488 L548,500 C540,560 545,650 588,715 Z"/></g>
<path d="M310.83,107.92 A10.5,10.5 0 0 1 327.50,111.67" fill="none" stroke="#96092d" stroke-width="0.9"/>
<path d="M307.50,120.42 A10.5,10.5 0 0 0 322.50,124.58" fill="none" stroke="#96092d" stroke-width="0.9"/>
</svg>
</body></html>
